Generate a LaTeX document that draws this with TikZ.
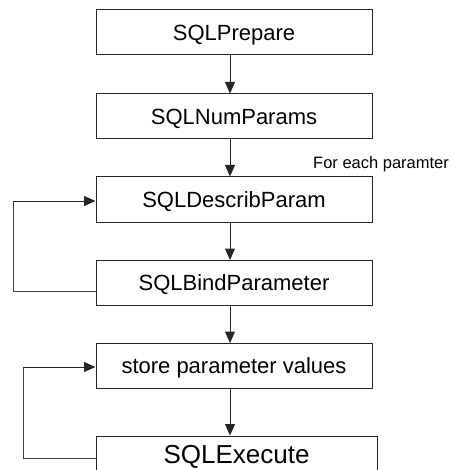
\documentclass[tikz,border=0pt]{standalone}
\usepackage{fontspec}
\setmainfont{Liberation Sans}
\usetikzlibrary{arrows.meta}
\begin{document}
\begin{tikzpicture}[x=1pt,y=-1pt,
  stepbox/.style={draw=black!85, line width=1pt, inner sep=0pt,
    minimum width=276pt, minimum height=45pt,
    text height=15.8pt, text depth=0pt,
    font=\fontsize{22}{26}\selectfont},
  flow/.style={draw=black!85, line width=1pt,
    -{Triangle[length=11.5pt,width=10pt]}},
  loopline/.style={draw=black!75, line width=1pt}]
\useasboundingbox (0,0) rectangle (467,470);
\clip (0,0) rectangle (467,470);

% main sequence of calls
\node[stepbox] (prep) at (234,32.5) {SQLPrepare};
\node[stepbox] (num)  at (234,116.5) {SQLNumParams};
\node[stepbox] (desc) at (234,199.5) {SQLDescribParam};
\node[stepbox] (bind) at (234,283) {SQLBindParameter};
\node[stepbox] (store) at (234,366) {store parameter values};
\node[stepbox, minimum width=281pt, minimum height=36pt, text height=18.7pt,
  font=\fontsize{26}{30}\selectfont, anchor=north] (exec) at (236.5,435.5) {SQLExecute};

\node[anchor=base west, inner sep=0pt, font=\fontsize{16.5}{20}\selectfont]
  (note) at (313,169) {For each paramter};

% vertical arrows between the steps
\coordinate (ax) at (230,0);
\draw[flow] (prep.south -| ax) -- (num.north -| ax);
\draw[flow] (num.south -| ax) -- (desc.north -| ax);
\draw[flow] (desc.south -| ax) -- (bind.north -| ax);
\draw[flow] (bind.south -| ax) -- (store.north -| ax);
\draw[flow] (store.south -| ax) -- (exec.north -| ax);

% loop over the parameters
\coordinate (l1out) at (13,291);
\coordinate (l1in)  at (13,201);
\draw[loopline] (bind.west |- l1out) -- (l1out) -- (l1in);
\draw[flow] (l1in) -- (desc.west |- l1in);

% loop over the executions
\coordinate (l2out) at (23,458);
\coordinate (l2in)  at (23,367);
\draw[loopline] (exec.west |- l2out) -- (l2out) -- (l2in);
\draw[flow] (l2in) -- (store.west |- l2in);
\end{tikzpicture}
\end{document}
